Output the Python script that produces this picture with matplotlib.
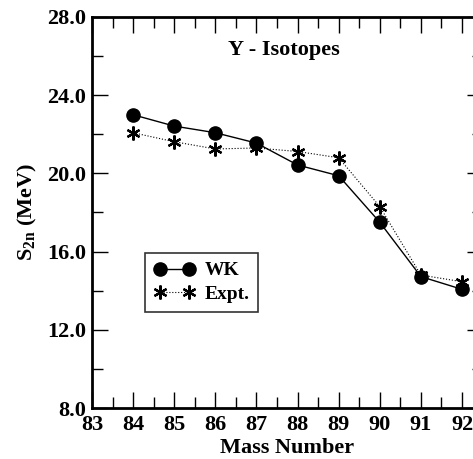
import numpy as np
import matplotlib
matplotlib.use("Agg")
import matplotlib.pyplot as plt
from matplotlib.ticker import MultipleLocator, FormatStrFormatter

plt.rcParams['font.family'] = ['Liberation Serif', 'DejaVu Serif']
plt.rcParams['font.weight'] = 'bold'
plt.rcParams['mathtext.fontset'] = 'custom'
plt.rcParams['mathtext.rm'] = 'Liberation Serif:bold'
plt.rcParams['mathtext.bf'] = 'Liberation Serif:bold'
plt.rcParams['mathtext.it'] = 'Liberation Serif:bold'

# mass numbers and S2n values (MeV)
mass = [84, 85, 86, 87, 88, 89, 90, 91, 92]
s2n_wk = [23.0, 22.42, 22.08, 21.55, 20.43, 19.88, 17.5, 14.72, 14.07]
s2n_expt = [22.08, 21.62, 21.25, 21.3, 21.12, 20.8, 18.3, 14.8, 14.46]

fig = plt.figure(figsize=(4.73, 4.59), dpi=100)
ax = fig.add_axes([92/473, 51/459, 391/473, 391/459])

ax.plot(mass, s2n_wk, color="black", linewidth=1.0, linestyle="-",
        marker="o", markersize=9.5, label="WK")
ax.plot(mass, s2n_expt, color="black", linewidth=0.8, linestyle=":",
        marker=(6, 2, 0), markersize=10, markeredgewidth=1.6, label="Expt.")

ax.set_xlim(83, 92.51)
ax.set_ylim(8, 28)
ax.xaxis.set_major_locator(MultipleLocator(1))
ax.xaxis.set_minor_locator(MultipleLocator(0.5))
ax.yaxis.set_major_locator(MultipleLocator(4))
ax.yaxis.set_minor_locator(MultipleLocator(2))
ax.yaxis.set_major_formatter(FormatStrFormatter('%.1f'))
ax.tick_params(which='both', direction='in', top=True, right=True,
               labelsize=16, width=1.0)
ax.tick_params(which='major', length=11.5, pad=4)
ax.tick_params(which='minor', length=8)
ax.tick_params(axis='x', pad=5)
for s in ax.spines.values():
    s.set_linewidth(2)

ax.set_xlabel("Mass Number", fontsize=16, fontweight='bold', labelpad=2)
ax.set_ylabel(r"S$_{\mathbf{2n}}$ (MeV)", fontsize=16, fontweight='bold', labelpad=6)

ax.text(87.67, 26.3, "Y - Isotopes", fontsize=16, fontweight='bold',
        ha='center', va='center')

leg = ax.legend(loc="upper left", bbox_to_anchor=(53/391, (408-253)/391),
                frameon=True, fancybox=False, edgecolor="black", fontsize=14,
                numpoints=2, handlelength=2.1, borderpad=0.45, labelspacing=0.3,
                handletextpad=0.5, borderaxespad=0)
leg.get_frame().set_linewidth(1.2)

plt.savefig("out.png", dpi=100)
